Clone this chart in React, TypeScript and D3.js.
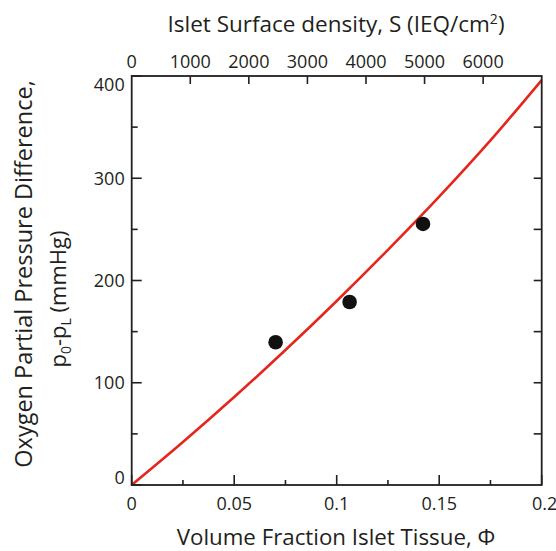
import React from "react";
import * as d3 from "d3";

const curveX = [0, 0.025, 0.05, 0.075, 0.1, 0.125, 0.15, 0.175, 0.2];
const curveY = [0, 42, 86, 132, 180, 230, 282, 337, 396];
const pointX = [0.0702, 0.1063, 0.1421];
const pointY = [139.6, 179, 255.3];
const bottomTicks = [0, 0.05, 0.1, 0.15, 0.2];
const bottomMinor = [0.025, 0.075, 0.125, 0.175];
const leftTicks = [0, 100, 200, 300, 400];
const leftMinor = [50, 150, 250, 350];
const rightTicks = [50, 100, 150, 200, 250, 300, 350];
const topTicks = [0, 1000, 2000, 3000, 4000, 5000, 6000];

const W = 556, H = 551;
const L = 131.7, R = 541.7, T = 76, B = 485;
const INK = "#231f20";
const FONT = "'Open Sans', sans-serif";

export default function App() {
  const x = d3.scaleLinear().domain([0, 0.2]).range([L, R]);
  const y = d3.scaleLinear().domain([0, 400]).range([B, T]);
  const xt = d3.scaleLinear().domain([0, 7000]).range([L, R]);
  const line = d3
    .line<number>()
    .x((_, i) => x(curveX[i]))
    .y((d) => y(d))
    .curve(d3.curveCatmullRom);
  const fmt = (v: number) => (v === 0 ? "0" : String(v));

  return (
    <svg width={W} height={H} style={{ position: "absolute", left: 0, top: 0, background: "#fff" }} fontFamily={FONT}>
      <rect x={0} y={0} width={W} height={H} fill="#fff" />
      <path d={line(curveY) || ""} fill="none" stroke="#e4261c" strokeWidth={2.6} />
      {pointX.map((px, i) => (
        <circle key={i} cx={x(px)} cy={y(pointY[i])} r={7.3} fill="#111" />
      ))}
      <rect x={L} y={T} width={R - L} height={B - T} fill="none" stroke={INK} strokeWidth={1.8} />
      {bottomTicks.map((t) => (
        <line key={"b" + t} x1={x(t)} x2={x(t)} y1={B} y2={B - 10} stroke={INK} strokeWidth={1.6} />
      ))}
      {bottomMinor.map((t) => (
        <line key={"bm" + t} x1={x(t)} x2={x(t)} y1={B} y2={B - 5} stroke={INK} strokeWidth={1.6} />
      ))}
      {bottomTicks.map((t) => (
        <text key={"bl" + t} x={x(t) + (t === 0.2 ? 3 : 0)} y={509.5} textAnchor="middle" fontSize={18} fill={INK}>
          {fmt(t)}
        </text>
      ))}
      {leftTicks.map((t) => (
        <line key={"l" + t} x1={L} x2={L + 10} y1={y(t)} y2={y(t)} stroke={INK} strokeWidth={1.6} />
      ))}
      {leftMinor.map((t) => (
        <line key={"lm" + t} x1={L} x2={L + 6} y1={y(t)} y2={y(t)} stroke={INK} strokeWidth={1.6} />
      ))}
      {leftTicks.map((t) => (
        <text
          key={"ll" + t}
          x={L - 7}
          y={y(t) + (t === 400 ? 9 : t === 0 ? -7 : 0)}
          dy="0.35em"
          textAnchor="end"
          fontSize={18}
          fill={INK}
        >
          {t}
        </text>
      ))}
      {rightTicks.map((t) => (
        <line key={"r" + t} x1={R} x2={R - 8} y1={y(t)} y2={y(t)} stroke={INK} strokeWidth={1.6} />
      ))}
      {topTicks.filter((t) => t > 0).map((t) => (
        <line key={"t" + t} x1={xt(t)} x2={xt(t)} y1={T} y2={T + 8} stroke={INK} strokeWidth={1.6} />
      ))}
      {topTicks.map((t) => (
        <text key={"tl" + t} x={xt(t)} y={67.5} textAnchor="middle" fontSize={18} fill={INK}>
          {t}
        </text>
      ))}
      <text x={336} y={31.5} textAnchor="middle" fontSize={22.5} fill={INK}>
        Islet Surface density, S (IEQ/cm<tspan dy={-8} fontSize={14}>2</tspan>
        <tspan dy={8}>)</tspan>
      </text>
      <text x={336} y={545} textAnchor="middle" fontSize={22.3} fill={INK}>
        Volume Fraction Islet Tissue, Φ
      </text>
      <g transform="translate(32,274) rotate(-90)">
        <text x={0} y={0} textAnchor="middle" fontSize={23.5} fill={INK}>
          Oxygen Partial Pressure Difference,
        </text>
      </g>
      <g transform="translate(66,299) rotate(-90)">
        <text x={0} y={0} textAnchor="middle" fontSize={22} fill={INK}>
          p<tspan dy={5} fontSize={14}>0</tspan>
          <tspan dy={-5}>-p</tspan>
          <tspan dy={5} fontSize={14}>L</tspan>
          <tspan dy={-5}> (mmHg)</tspan>
        </text>
      </g>
    </svg>
  );
}
